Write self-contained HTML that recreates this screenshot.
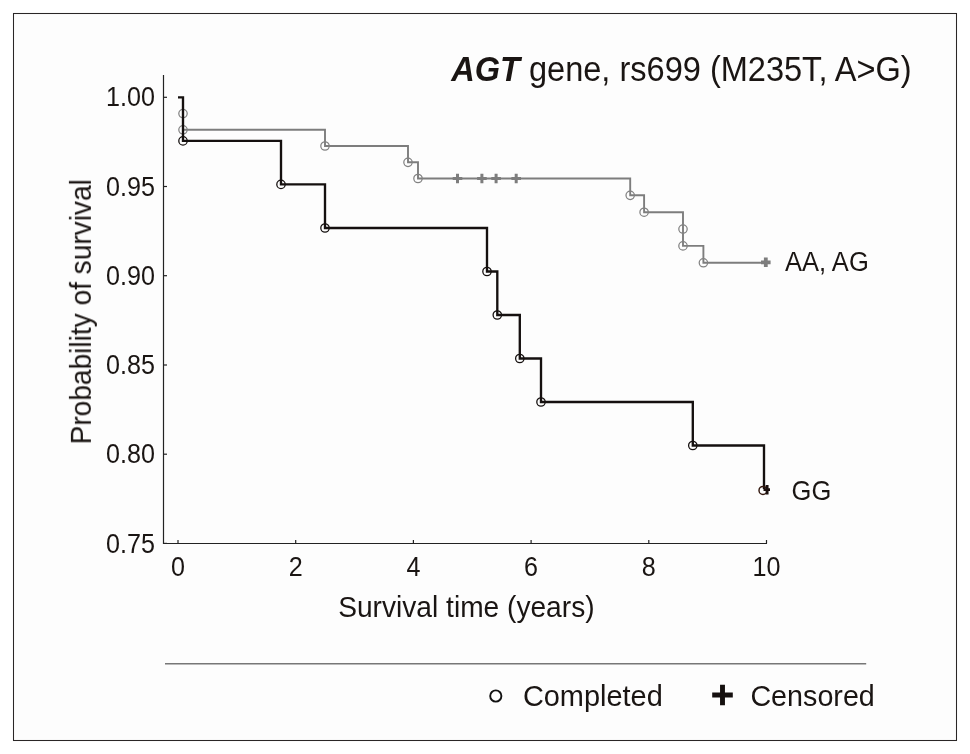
<!DOCTYPE html>
<html><head><meta charset="utf-8"><title>AGT gene, rs699 (M235T, A&gt;G)</title>
<style>
html,body{margin:0;padding:0;background:#fff;}
svg{display:block;}
text{font-family:"Liberation Sans",Arial,Helvetica,sans-serif;fill:#1a1513;}
</style></head><body>
<svg width="970" height="754" viewBox="0 0 970 754">
<rect x="0" y="0" width="970" height="754" fill="#ffffff"/>
<rect x="13.5" y="13.5" width="943" height="727" fill="#fdfdfd" stroke="#2a2626" stroke-width="1.05"/>

<g id="ink" style="filter:blur(0.35px)">
<path d="M163.5,75 V543.5 H767" stroke="#222" stroke-width="1.2" fill="none"/>
<path d="M163.5,97.3 H167" stroke="#222" stroke-width="1.2"/>
<text transform="translate(154.90,106.40) scale(0.9250,1)" font-size="27.20" text-anchor="end">1.00</text>
<path d="M163.5,186.5 H167" stroke="#222" stroke-width="1.2"/>
<text transform="translate(154.90,195.62) scale(0.9250,1)" font-size="27.20" text-anchor="end">0.95</text>
<path d="M163.5,275.7 H167" stroke="#222" stroke-width="1.2"/>
<text transform="translate(154.90,284.84) scale(0.9250,1)" font-size="27.20" text-anchor="end">0.90</text>
<path d="M163.5,365.0 H167" stroke="#222" stroke-width="1.2"/>
<text transform="translate(154.90,374.06) scale(0.9250,1)" font-size="27.20" text-anchor="end">0.85</text>
<path d="M163.5,454.2 H167" stroke="#222" stroke-width="1.2"/>
<text transform="translate(154.90,463.28) scale(0.9250,1)" font-size="27.20" text-anchor="end">0.80</text>
<path d="M163.5,543.4 H167" stroke="#222" stroke-width="1.2"/>
<text transform="translate(154.90,552.50) scale(0.9250,1)" font-size="27.20" text-anchor="end">0.75</text>
<path d="M178.0,543.5 V540" stroke="#222" stroke-width="1.2"/>
<text transform="translate(178.00,576.00) scale(0.9320,1)" font-size="27.00" text-anchor="middle">0</text>
<path d="M295.7,543.5 V540" stroke="#222" stroke-width="1.2"/>
<text transform="translate(295.70,576.00) scale(0.9320,1)" font-size="27.00" text-anchor="middle">2</text>
<path d="M413.4,543.5 V540" stroke="#222" stroke-width="1.2"/>
<text transform="translate(413.40,576.00) scale(0.9320,1)" font-size="27.00" text-anchor="middle">4</text>
<path d="M531.1,543.5 V540" stroke="#222" stroke-width="1.2"/>
<text transform="translate(531.10,576.00) scale(0.9320,1)" font-size="27.00" text-anchor="middle">6</text>
<path d="M648.8,543.5 V540" stroke="#222" stroke-width="1.2"/>
<text transform="translate(648.80,576.00) scale(0.9320,1)" font-size="27.00" text-anchor="middle">8</text>
<path d="M766.5,543.5 V540" stroke="#222" stroke-width="1.2"/>
<text transform="translate(766.50,576.00) scale(0.9320,1)" font-size="27.00" text-anchor="middle">10</text>
<text transform="translate(90.90,444.40) rotate(-90) scale(0.9750,1)" font-size="28.80" text-anchor="start">Probability of survival</text>
<text transform="translate(338.20,616.60) scale(0.9810,1)" font-size="28.70" text-anchor="start">Survival time (years)</text>
<text transform="translate(451.20,80.80) scale(0.9520,1)" font-size="34.20" text-anchor="start"><tspan font-weight="bold" font-style="italic">AGT</tspan> gene, rs699 (M235T, A&gt;G)</text>
<path d="M183,97.3 H183.0 V113.6 H183.0 V129.8 H325.0 V146.0 H408.0 V162.3 H418.0 V178.5 H630.2 V195.3 H644.1 V212.2 H683.0 V229.1 H683.0 V245.9 H703.4 V262.8 H766" stroke="#7d7d7d" stroke-width="1.9" fill="none" stroke-linejoin="miter"/>
<circle cx="183.0" cy="113.6" r="4.2" fill="none" stroke="#828282" stroke-width="1.25"/>
<circle cx="183.0" cy="129.8" r="4.2" fill="none" stroke="#828282" stroke-width="1.25"/>
<circle cx="325.0" cy="146.0" r="4.2" fill="none" stroke="#828282" stroke-width="1.25"/>
<circle cx="408.0" cy="162.3" r="4.2" fill="none" stroke="#828282" stroke-width="1.25"/>
<circle cx="418.0" cy="178.5" r="4.2" fill="none" stroke="#828282" stroke-width="1.25"/>
<circle cx="630.2" cy="195.3" r="4.2" fill="none" stroke="#828282" stroke-width="1.25"/>
<circle cx="644.1" cy="212.2" r="4.2" fill="none" stroke="#828282" stroke-width="1.25"/>
<circle cx="683.0" cy="229.1" r="4.2" fill="none" stroke="#828282" stroke-width="1.25"/>
<circle cx="683.0" cy="245.9" r="4.2" fill="none" stroke="#828282" stroke-width="1.25"/>
<circle cx="703.4" cy="262.8" r="4.2" fill="none" stroke="#828282" stroke-width="1.25"/>
<path d="M452.7,178.5 H462.3 M457.5,173.7 V183.3" stroke="#7d7d7d" stroke-width="3.0" fill="none"/>
<path d="M477.1,178.5 H486.7 M481.9,173.7 V183.3" stroke="#7d7d7d" stroke-width="3.0" fill="none"/>
<path d="M491.3,178.5 H500.9 M496.1,173.7 V183.3" stroke="#7d7d7d" stroke-width="3.0" fill="none"/>
<path d="M511.4,178.5 H521.0 M516.2,173.7 V183.3" stroke="#7d7d7d" stroke-width="3.0" fill="none"/>
<path d="M761.0,262.3 H770.6 M765.8,257.5 V267.1" stroke="#7d7d7d" stroke-width="3.8" fill="none"/>
<path d="M178,97.3 H183 H183.0 V140.9 H281.0 V184.4 H325.0 V228.0 H487.0 V271.5 H497.3 V315.0 H519.8 V358.5 H541.0 V402.0 H692.8 V445.5 H764.0 V489.0" stroke="#15100f" stroke-width="2.35" fill="none" stroke-linejoin="miter"/>
<circle cx="183.0" cy="140.9" r="4.2" fill="none" stroke="#15100f" stroke-width="1.3"/>
<circle cx="281.0" cy="184.4" r="4.2" fill="none" stroke="#15100f" stroke-width="1.3"/>
<circle cx="325.0" cy="228.0" r="4.2" fill="none" stroke="#15100f" stroke-width="1.3"/>
<circle cx="487.0" cy="271.5" r="4.2" fill="none" stroke="#15100f" stroke-width="1.3"/>
<circle cx="497.3" cy="315.0" r="4.2" fill="none" stroke="#15100f" stroke-width="1.3"/>
<circle cx="519.8" cy="358.5" r="4.2" fill="none" stroke="#15100f" stroke-width="1.3"/>
<circle cx="541.0" cy="402.0" r="4.2" fill="none" stroke="#15100f" stroke-width="1.3"/>
<circle cx="692.8" cy="445.5" r="4.2" fill="none" stroke="#15100f" stroke-width="1.3"/>
<circle cx="763.0" cy="490.4" r="4.0" fill="none" stroke="#32170e" stroke-width="1.45"/>
<path d="M767.1,484.9 V494.5 M763.5,489.6 H770" stroke="#1a0f0d" stroke-width="2.9" fill="none"/>
<text transform="translate(785.10,270.90) scale(0.9450,1)" font-size="27.00" text-anchor="start">AA, AG</text>
<text transform="translate(791.60,499.50) scale(0.9460,1)" font-size="27.00" text-anchor="start">GG</text>
<path d="M165,663.7 H866.2" stroke="#777" stroke-width="1.4"/>
<circle cx="495.8" cy="696" r="5.6" fill="none" stroke="#111" stroke-width="1.9"/>
<text transform="translate(522.90,706.00) scale(0.9580,1)" font-size="30.20" text-anchor="start">Completed</text>
<path d="M712.2,695.0 H732.8 M722.5,684.8 V705.2" stroke="#15100f" stroke-width="4.9" fill="none"/>
<text transform="translate(750.40,706.00) scale(0.9600,1)" font-size="29.90" text-anchor="start">Censored</text>
</g>
</svg></body></html>
